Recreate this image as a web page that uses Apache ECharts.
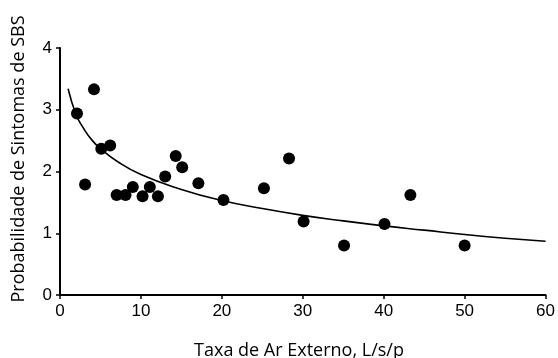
<!DOCTYPE html>
<html>
<head>
<meta charset="utf-8">
<script src="https://cdn.jsdelivr.net/npm/echarts@6/dist/echarts.min.js"></script>
<style>html,body{margin:0;padding:0;background:#fff}#c{width:558px;height:358px}</style>
</head>
<body>
<div id="c"></div>
<script>
const xTitle = 'Taxa de Ar Externo, L/s/p';
const yTitle = 'Probabilidade de Sintomas de SBS';
const xTicks = [0, 10, 20, 30, 40, 50, 60];
const yTicks = [0, 1, 2, 3, 4];
const pointX = [2.1, 3.1, 4.2, 5.1, 6.2, 7.0, 8.1, 9.0, 10.2, 11.1, 12.1, 13.0, 14.3, 15.1, 17.1, 20.2, 25.2, 28.3, 30.1, 35.1, 40.1, 43.3, 50.0];
const pointY = [2.94, 1.79, 3.33, 2.37, 2.42, 1.62, 1.62, 1.75, 1.60, 1.75, 1.60, 1.92, 2.25, 2.07, 1.81, 1.54, 1.73, 2.21, 1.19, 0.80, 1.15, 1.62, 0.80];
const curveX = [1, 2, 3, 4, 5, 7, 10, 15, 20, 25, 30, 35, 40, 45, 50, 55, 60];
const curveY = [3.34, 2.92, 2.68, 2.50, 2.37, 2.17, 1.95, 1.71, 1.53, 1.40, 1.29, 1.20, 1.12, 1.05, 0.98, 0.92, 0.87];

const chart = echarts.init(document.getElementById('c'), null, {renderer: 'canvas'});
const axisCommon = {
  axisLine: {show: true, lineStyle: {color: '#000', width: 2}},
  axisTick: {show: true, inside: false, length: 4, lineStyle: {color: '#000', width: 1.5}},
  splitLine: {show: false},
  axisLabel: {color: '#000', fontFamily: 'Liberation Sans', fontSize: 17, margin: 8}
};
chart.setOption({
  animation: false,
  backgroundColor: '#fff',
  grid: {left: 60, right: 12, top: 48, bottom: 63, containLabel: false},
  title: [
    {text: xTitle, left: 294, top: 337, textAlign: 'center',
     textStyle: {fontFamily: 'Open Sans', fontSize: 18, fontWeight: 'normal', color: '#000'}}
  ],
  graphic: [{
    type: 'text', x: 19, y: 159, rotation: Math.PI / 2,
    style: {text: yTitle, font: '18px "Open Sans"', fill: '#000', align: 'center', verticalAlign: 'middle'}
  }],
  xAxis: Object.assign({
    type: 'value', min: xTicks[0], max: xTicks[xTicks.length - 1], interval: 10
  }, axisCommon),
  yAxis: Object.assign({
    type: 'value', min: yTicks[0], max: yTicks[yTicks.length - 1], interval: 1
  }, axisCommon),
  series: [
    {
      type: 'line', data: curveX.map((x, i) => [x, curveY[i]]), smooth: true, showSymbol: false,
      lineStyle: {color: '#000', width: 1.6}, z: 2
    },
    {
      type: 'scatter', data: pointX.map((x, i) => [x, pointY[i]]), symbol: 'circle', symbolSize: 12,
      itemStyle: {color: '#000', opacity: 1}, z: 3
    }
  ]
});
</script>
</body>
</html>
